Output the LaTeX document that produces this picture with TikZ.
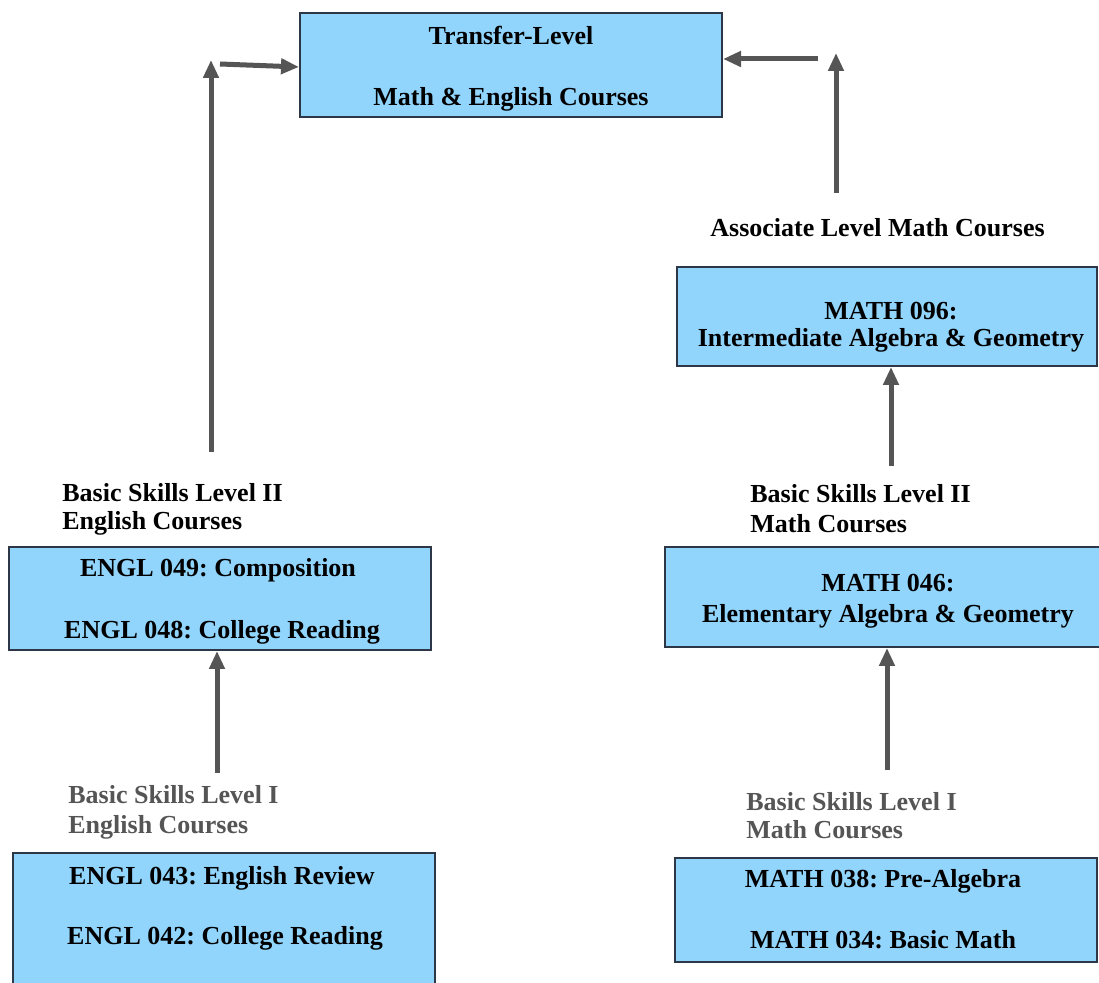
\documentclass[tikz,border=0pt]{standalone}
\usepackage{fontspec}
\setmainfont{Liberation Serif}
\usetikzlibrary{arrows.meta,fit}
\definecolor{boxfill}{RGB}{145,212,252}
\definecolor{boxline}{RGB}{45,55,70}
\definecolor{arrowgray}{RGB}{85,85,85}
\definecolor{labelgray}{RGB}{85,85,85}
\frenchspacing
\tikzset{
  course/.style={draw=boxline, fill=boxfill, line width=1pt, inner sep=0pt, rectangle},
  txt/.style={inner sep=0pt, anchor=base, font=\fontsize{13}{13}\selectfont\bfseries, text=black},
  lbl/.style={txt, anchor=base west},
  lblgray/.style={lbl, text=labelgray},
  link/.style={draw=arrowgray, line width=2.5pt, -{Triangle[length=9pt,width=7.5pt]}},
}
\begin{document}
\begin{tikzpicture}[x=0.5pt, y=-0.5pt]
\useasboundingbox (0,0) rectangle (1099,983);
\clip (0,0) rectangle (1099,983);

% course boxes
\node[course, fit={(300,13) (722,117)}] (top) {};
\node[course, fit={(9,547) (431,650)}] (e49) {};
\node[course, fit={(13,853) (435,1010)}] (e43) {};
\node[course, fit={(677,267) (1097,366)}] (m96) {};
\node[course, fit={(665,547) (1110,647)}] (m46) {};
\node[course, fit={(675,858) (1097,962)}] (m38) {};

% box texts
\node[txt] (top1) at (511,45) {Transfer-Level};
\node[txt] (top2) at (511,106) {Math \& English Courses};
\node[txt] (e491) at (218,577) {ENGL 049: Composition};
\node[txt] (e492) at (222,639) {ENGL 048: College Reading};
\node[txt] (e431) at (222,885) {ENGL 043: English Review};
\node[txt] (e432) at (225,945) {ENGL 042: College Reading};
\node[txt] (m961) at (891,320) {MATH 096:};
\node[txt] (m962) at (891,347) {Intermediate Algebra \& Geometry};
\node[txt] (m461) at (888,592) {MATH 046:};
\node[txt] (m462) at (888,623) {Elementary Algebra \& Geometry};
\node[txt] (m381) at (883,888) {MATH 038: Pre-Algebra};
\node[txt] (m382) at (883,949) {MATH 034: Basic Math};

% level labels
\node[lbl] (assoc) at (710,237) {Associate Level Math Courses};
\node[lbl] (el2a) at (62,502) {Basic Skills Level II};
\node[lbl] (el2b) at (62,530) {English Courses};
\node[lblgray] (el1a) at (68,804) {Basic Skills Level I};
\node[lblgray] (el1b) at (68,834) {English Courses};
\node[lbl] (ml2a) at (750,503) {Basic Skills Level II};
\node[lbl] (ml2b) at (750,533) {Math Courses};
\node[lblgray] (ml1a) at (746,811) {Basic Skills Level I};
\node[lblgray] (ml1b) at (746,839) {Math Courses};

% free arrow ends
\coordinate (lvbot) at (211,452);
\coordinate (lvtop) at (211,60);
\coordinate (lhs) at (220,64);
\coordinate (rvbot) at (836,193);
\coordinate (rvtop) at (836,53);
\coordinate (rhs) at (818,59);
\coordinate (m96tail) at (891,466);
\coordinate (m46tail) at (887,770);
\coordinate (e49tail) at (217,773);

% connectors
\draw[link] (lvbot) -- (lvtop);
\draw[link] (lhs) -- ([yshift=-1.5pt]lhs -| top.west);
\draw[link] (rvbot) -- (rvtop);
\draw[link] (rhs) -- (rhs -| top.east);
\draw[link] (m96tail) -- (m96tail |- m96.south);
\draw[link] (m46tail) -- (m46tail |- m46.south);
\draw[link] (e49tail) -- (e49tail |- e49.south);
\end{tikzpicture}
\end{document}
